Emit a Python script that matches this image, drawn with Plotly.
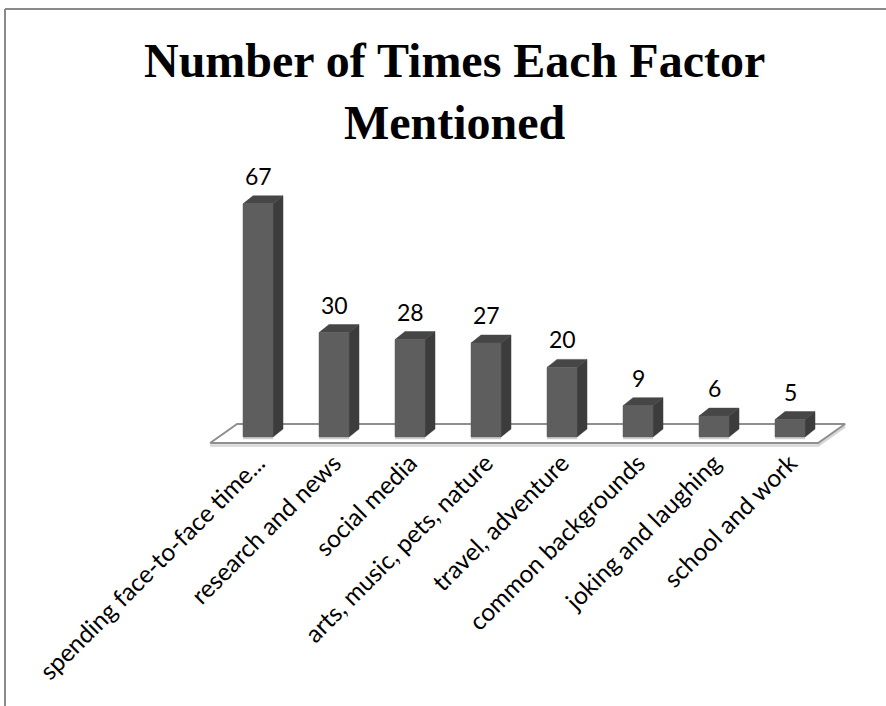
import plotly.graph_objects as go

# Data
categories = [
    "spending face-to-face time...",
    "research and news",
    "social media",
    "arts, music, pets, nature",
    "travel, adventure",
    "common backgrounds",
    "joking and laughing",
    "school and work",
]
counts = [67, 30, 28, 27, 20, 9, 6, 5]

title_lines = ["Number of Times Each Factor", "Mentioned"]

# Canvas and scale setup (pixels)
W, H = 886, 706
PX_PER_CAT = 76.0      # horizontal distance between bar centres
PX_PER_UNIT = 3.48     # vertical pixels per count
ORIGIN_X = 258.0       # pixel x of first category
ORIGIN_Y = 437.0       # pixel y of zero

x_range = [-ORIGIN_X / PX_PER_CAT, (W - ORIGIN_X) / PX_PER_CAT]
y_range = [-(H - ORIGIN_Y) / PX_PER_UNIT, ORIGIN_Y / PX_PER_UNIT]

# 3D look, expressed in data units
BAR_W = 30 / PX_PER_CAT
BAR_DX = 10 / PX_PER_CAT
BAR_DY = 8 / PX_PER_UNIT
FLOOR_FRONT = -6 / PX_PER_UNIT
FLOOR_DX = 27 / PX_PER_CAT
FLOOR_DY = 19 / PX_PER_UNIT
FLOOR_LEFT = -0.63
FLOOR_RIGHT = len(categories) - 1 + 0.37

FRONT_COL = "#5e5e5e"
SIDE_COL = "#3c3c3c"
TOP_COL = "#464646"
FLOOR_LINE = "#8f8f8f"

fig = go.Figure()

# Floor plane
fx = [FLOOR_LEFT, FLOOR_RIGHT, FLOOR_RIGHT + FLOOR_DX, FLOOR_LEFT + FLOOR_DX, FLOOR_LEFT]
fy = [FLOOR_FRONT, FLOOR_FRONT, FLOOR_FRONT + FLOOR_DY, FLOOR_FRONT + FLOOR_DY, FLOOR_FRONT]
# soft shadow under the front and right edges
sh = 2.5 / PX_PER_UNIT
fig.add_trace(go.Scatter(
    x=[FLOOR_LEFT, FLOOR_RIGHT, FLOOR_RIGHT + FLOOR_DX],
    y=[FLOOR_FRONT - sh, FLOOR_FRONT - sh, FLOOR_FRONT + FLOOR_DY - sh],
    mode="lines", line=dict(color="#d6d6d6", width=2.5),
    hoverinfo="skip", showlegend=False,
))
fig.add_trace(go.Scatter(
    x=fx, y=fy, mode="lines", fill="toself", fillcolor="white",
    line=dict(color=FLOOR_LINE, width=2),
    hoverinfo="skip", showlegend=False,
))


def polys(make):
    xs, ys = [], []
    for i, v in enumerate(counts):
        px, py = make(i, v)
        xs += px + [px[0], None]
        ys += py + [py[0], None]
    return xs, ys


front = polys(lambda i, v: (
    [i - BAR_W / 2, i + BAR_W / 2, i + BAR_W / 2, i - BAR_W / 2],
    [0, 0, v, v]))
side = polys(lambda i, v: (
    [i + BAR_W / 2, i + BAR_W / 2 + BAR_DX, i + BAR_W / 2 + BAR_DX, i + BAR_W / 2],
    [0, BAR_DY, v + BAR_DY, v]))
top = polys(lambda i, v: (
    [i - BAR_W / 2, i + BAR_W / 2, i + BAR_W / 2 + BAR_DX, i - BAR_W / 2 + BAR_DX],
    [v, v, v + BAR_DY, v + BAR_DY]))

# thin light reflection under each bar
refl_x, refl_y = [], []
for i, v in enumerate(counts):
    refl_x += [i - BAR_W / 2, i + BAR_W / 2, None]
    refl_y += [-1.2 / PX_PER_UNIT, -1.2 / PX_PER_UNIT, None]
fig.add_trace(go.Scatter(x=refl_x, y=refl_y, mode="lines",
                         line=dict(color="#cfcfcf", width=2),
                         hoverinfo="skip", showlegend=False))

for (xs, ys), col in ((side, SIDE_COL), (top, TOP_COL), (front, FRONT_COL)):
    fig.add_trace(go.Scatter(
        x=xs, y=ys, mode="lines", fill="toself", fillcolor=col,
        line=dict(color=col, width=0.5),
        hoverinfo="skip", showlegend=False,
    ))

# Value labels above the bars
value_font = dict(family="Lato, Carlito, Calibri, sans-serif", size=23, color="black")
tick_font = dict(family="Lato, Carlito, Calibri, sans-serif", size=24.5, color="black")
for i, v in enumerate(counts):
    fig.add_annotation(x=i, y=v, text=str(v), showarrow=False,
                       xanchor="center", yanchor="bottom", yshift=12,
                       font=value_font)

# Title
fig.add_annotation(
    x=454 / W, y=1 - 32 / H, xref="paper", yref="paper",
    text="<br>".join(title_lines), showarrow=False,
    xanchor="center", yanchor="top", align="center",
    font=dict(family="Liberation Serif, Times New Roman, serif", size=48,
              color="black", weight="bold"),
)

# Chart frame (top and left edges)
frame = dict(color="#8a8a8a", width=2)
fig.add_shape(type="line", xref="paper", yref="paper",
              x0=5 / W, x1=1, y0=1 - 9 / H, y1=1 - 9 / H, line=frame)
fig.add_shape(type="line", xref="paper", yref="paper",
              x0=5 / W, x1=5 / W, y0=0, y1=1 - 9 / H, line=frame)

fig.update_layout(
    width=W, height=H,
    margin=dict(l=0, r=0, t=0, b=0),
    paper_bgcolor="white", plot_bgcolor="white",
    showlegend=False,
    xaxis=dict(
        range=x_range, showgrid=False, zeroline=False, showline=False,
        tickmode="array", tickvals=list(range(len(categories))),
        ticktext=categories, tickangle=-45, ticks="",
        anchor="free", position=1 - 443 / H,
        tickfont=tick_font, fixedrange=True,
    ),
    yaxis=dict(range=y_range, visible=False, fixedrange=True),
)

fig.write_html("out.html")
